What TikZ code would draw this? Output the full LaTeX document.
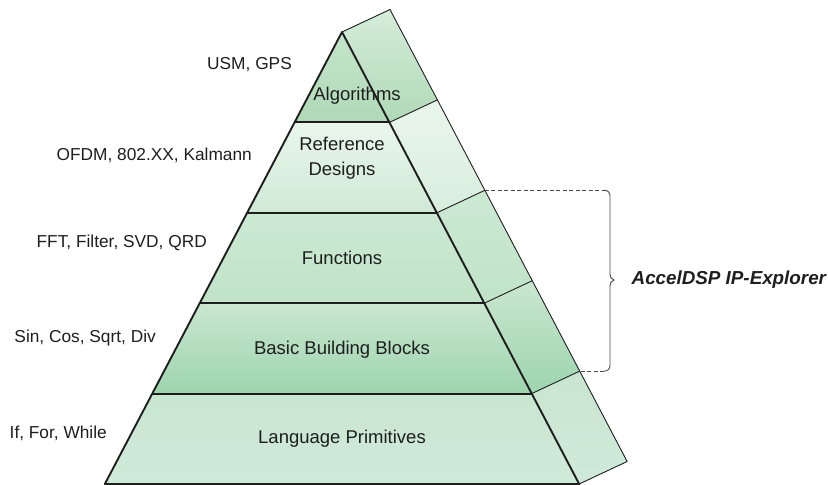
\documentclass[tikz,border=0pt]{standalone}
\usepackage{fontspec}
\setmainfont{Liberation Sans}
\definecolor{algT}{HTML}{C3E5C9}
\definecolor{algB}{HTML}{B0D9B8}
\definecolor{refT}{HTML}{EAF6EC}
\definecolor{refB}{HTML}{CFE9D5}
\definecolor{funT}{HTML}{CCE9D3}
\definecolor{funB}{HTML}{C0E3C8}
\definecolor{bbbT}{HTML}{CAE7D0}
\definecolor{bbbB}{HTML}{9DD4AE}
\definecolor{lpT}{HTML}{C9E6D1}
\definecolor{lpB}{HTML}{D0EAD9}
\definecolor{ink}{HTML}{1E1E1E}
\definecolor{brace}{HTML}{4A4A4A}
\begin{document}
\begin{tikzpicture}[x=1pt,y=-1pt,
  edge/.style={draw=ink, line width=1.9pt, line join=round},
  sideline/.style={draw=ink, line width=0.9pt, line join=round},
  inlabel/.style={inner sep=0pt, font=\fontsize{18.5}{25}\selectfont, text=ink, align=center},
  leftlabel/.style={inner sep=0pt, font=\fontsize{17.3}{20}\selectfont, text=ink, anchor=east},
  bracedash/.style={draw=brace, line width=0.9pt, dash pattern=on 4pt off 2.5pt},
  bracesolid/.style={draw=brace, line width=0.9pt},
]
\useasboundingbox (0,0) rectangle (828,485);
% front face points
\coordinate (A)  at (342,32);
\coordinate (L1) at (294.57,122.4);  \coordinate (R1) at (389.43,122.4);
\coordinate (L2) at (247.14,212.8);  \coordinate (R2) at (436.86,212.8);
\coordinate (L3) at (199.71,303.2);  \coordinate (R3) at (484.29,303.2);
\coordinate (L4) at (152.28,393.6);  \coordinate (R4) at (531.72,393.6);
\coordinate (L5) at (104.85,484);    \coordinate (R5) at (579.15,484);
% back edge of side face
\coordinate (B0) at (390,9.5);
\coordinate (B1) at (437.43,99.9);
\coordinate (B2) at (484.86,190.3);
\coordinate (B3) at (532.29,280.7);
\coordinate (B4) at (579.72,371.1);
\coordinate (B5) at (627.15,461.5);
% front fills
\shade[top color=algT, bottom color=algB] (A) -- (R1) -- (L1) -- cycle;
\shade[top color=refT, bottom color=refB] (L1) -- (R1) -- (R2) -- (L2) -- cycle;
\shade[top color=funT, bottom color=funB] (L2) -- (R2) -- (R3) -- (L3) -- cycle;
\shade[top color=bbbT, bottom color=bbbB] (L3) -- (R3) -- (R4) -- (L4) -- cycle;
\shade[top color=lpT, bottom color=lpB] (L4) -- (R4) -- (R5) -- (L5) -- cycle;
% side fills
\shade[top color=algT!70!white, bottom color=algB] (A) -- (B0) -- (B1) -- (R1) -- cycle;
\shade[top color=refT, bottom color=refB!80!white] (R1) -- (B1) -- (B2) -- (R2) -- cycle;
\shade[top color=funT, bottom color=funB] (R2) -- (B2) -- (B3) -- (R3) -- cycle;
\shade[top color=bbbT, bottom color=bbbB] (R3) -- (B3) -- (B4) -- (R4) -- cycle;
\shade[top color=lpT, bottom color=lpB] (R4) -- (B4) -- (B5) -- (R5) -- cycle;
% side lines
\draw[sideline] (A) -- (B0) -- (B5) -- (R5);
\draw[sideline] (R1) -- (B1);
\draw[sideline] (R2) -- (B2);
\draw[sideline] (R3) -- (B3);
\draw[sideline] (R4) -- (B4);
% front lines
\draw[edge] (A) -- (L5) -- (R5) -- cycle;
\draw[edge] (L1) -- (R1);
\draw[edge] (L2) -- (R2);
\draw[edge] (L3) -- (R3);
\draw[edge] (L4) -- (R4);
% labels inside
\node[inlabel] (alg) at (357,96) {Algorithms};
\node[inlabel] (ref) at (342,158.5) {Reference\\Designs};
\node[inlabel] (fun) at (342,258) {Functions};
\node[inlabel] (bbb) at (342,350) {Basic Building Blocks};
\node[inlabel] (lp)  at (342,439) {Language Primitives};
% labels left
\node[leftlabel] (usm)  at (292,65)  {USM, GPS};
\node[leftlabel] (ofdm) at (252,155) {OFDM, 802.XX, Kalmann};
\node[leftlabel] (fft)  at (207,243) {FFT, Filter, SVD, QRD};
\node[leftlabel] (sin)  at (156,338) {Sin, Cos, Sqrt, Div};
\node[leftlabel] (iff)  at (107,433) {If, For, While};
% brace
\coordinate (bt) at (604,190.3);
\coordinate (bb) at (604,371.1);
\coordinate (tip) at (614,280);
\draw[bracedash] (B2) -- (bt);
\draw[bracedash] (bb) -- (B4);
\draw[bracesolid] (bt) .. controls (608,190.3) and (610,192.3) .. (610,196.3)
  -- (610,274) .. controls (610,277) and (611,279.2) .. (tip)
  .. controls (611,280.8) and (610,283) .. (610,286)
  -- (610,365.1) .. controls (610,369.1) and (608,371.1) .. (bb);
\node[inner sep=0pt, anchor=west, text=ink, font=\bfseries\itshape\fontsize{18.8}{22}\selectfont] (ipx) at (631.5,280) {AccelDSP IP-Explorer};
\end{tikzpicture}
\end{document}
